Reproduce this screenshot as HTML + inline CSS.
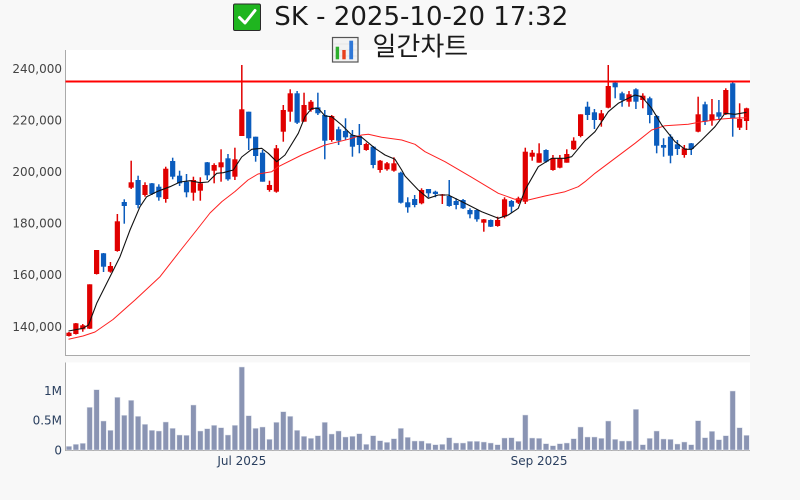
<!DOCTYPE html>
<html>
<head>
<meta charset="utf-8">
<style>
html,body{margin:0;padding:0;background:#f8f8f8;}
svg{display:block;}
.tk{font-family:"DejaVu Sans","Liberation Sans",sans-serif;font-size:12px;}
</style>
</head>
<body>
<svg width="800" height="500" viewBox="0 0 800 500" xmlns="http://www.w3.org/2000/svg">
  <rect x="0" y="0" width="800" height="500" fill="#f8f8f8"/>
  <!-- plot areas -->
  <rect x="65.5" y="50" width="684.5" height="305" fill="#ffffff"/>
  <rect x="65.5" y="362.5" width="684.5" height="88" fill="#ffffff"/>

  <!-- axis lines -->
  <line x1="65.5" y1="50" x2="65.5" y2="355.5" stroke="#aaaaaa" stroke-width="1"/>
  <line x1="65" y1="355.5" x2="750" y2="355.5" stroke="#aaaaaa" stroke-width="1"/>
  <line x1="65.5" y1="362.5" x2="65.5" y2="450.5" stroke="#aaaaaa" stroke-width="1"/>
  <line x1="65" y1="450.5" x2="750" y2="450.5" stroke="#aaaaaa" stroke-width="1"/>

  <!-- y tick labels main -->
  <g class="tk" fill="#444444" text-anchor="end">
    <text x="62" y="72.8">240,000</text>
    <text x="62" y="124.4">220,000</text>
    <text x="62" y="176">200,000</text>
    <text x="62" y="227.6">180,000</text>
    <text x="62" y="279.2">160,000</text>
    <text x="62" y="330.8">140,000</text>
  </g>
  <!-- volume tick labels -->
  <g class="tk" fill="#2a3f5f" text-anchor="end">
    <text x="62" y="395">1M</text>
    <text x="62" y="424.6">0.5M</text>
    <text x="62" y="454.3">0</text>
  </g>
  <!-- x tick labels -->
  <g class="tk" fill="#2a3f5f" text-anchor="middle">
    <text x="241.8" y="465">Jul 2025</text>
    <text x="539.1" y="465">Sep 2025</text>
  </g>

  <g id="vol"></g>
  <g id="candles"></g>

  <!-- MA20 red thin -->
  <polyline fill="none" stroke="#ff2020" stroke-width="1" stroke-linejoin="round" points="68.5,339.3 83,336 95,332 113,319.5 135,300 160,276.7 180,251 196.7,230 210,213 222,201.5 235,191.5 248,180 258,174 271.7,171.7 278.3,166.7 301.7,155 325,145 348.3,139.3 361.7,135 368.3,134.3 381.7,137.3 401.7,140 415,144.3 425,151.7 445,161.7 471.7,177.3 498.3,193.3 515,199.3 528.3,200 545,196 565,191.7 578.3,186.7 585,181.7 595,173.3 615,158.3 635,143.3 651.7,130 665,125.7 688.3,124.3 701.7,121.7 721.7,119 731.7,118.3 746.5,117.7"/>
  <!-- MA5 black -->
  <polyline fill="none" stroke="#111111" stroke-width="1.1" stroke-linejoin="round" points="68.5,331 83,328.3 88.5,325 96.7,303.3 110,276.7 120,256.7 130,230 140,206.7 146.7,196.7 156.7,191.7 170,186.7 180,182 190,180.7 200,182.7 208,182 216.7,173.3 223.3,172.7 233.3,170 241.7,157 251.7,149.3 261.7,148.3 268.3,153.3 276.7,161.7 285,155 298.3,133.3 305,116.7 311.7,108.3 318.3,108.3 325,116 331.7,116.7 341.7,125 351.7,135 361.7,137.3 375,148.3 385,155 395,159.3 401.7,170 405,176 418.3,190 428.3,198.3 438.3,195 448.3,195 465,203.3 481.7,211.7 498.3,218.3 508.3,215 518.3,208.3 525,190 538.3,166.7 551.7,158.3 565,158.3 571.7,156.7 585,140.7 595,131.7 608.3,111.7 618.3,103.3 628.3,98.3 635,95 641.7,96.7 651.7,108.3 661.7,125 675,141.7 685,149.3 691.7,149.3 701.7,140 715,126.7 725,113.3 735,114.3 746.5,112.3"/>

  <!-- horizontal red line -->
  <line x1="65.5" y1="81.5" x2="750" y2="81.5" stroke="#ff0000" stroke-width="2"/>

  <!-- Title -->
  <rect x="233.5" y="4" width="27" height="26.5" rx="1.5" fill="#1fb51f" stroke="#2a2a2a" stroke-width="1"/>
  <polyline points="239.5,17.5 245,23 255,10.5" fill="none" stroke="#ffffff" stroke-width="3" stroke-linecap="round" stroke-linejoin="round"/>
  <text x="274.3" y="25" font-family="DejaVu Sans, Liberation Sans, sans-serif" font-size="26" fill="#1a1a1a" textLength="294" lengthAdjust="spacingAndGlyphs">SK - 2025-10-20 17:32</text>

  <!-- Subtitle icon -->
  <rect x="332.5" y="37.5" width="25.5" height="24.5" fill="#f2f2f2" stroke="#555555" stroke-width="1.2"/>
  <line x1="333" y1="44" x2="357.5" y2="44" stroke="#d8d8d8" stroke-width="0.6"/>
  <line x1="333" y1="50" x2="357.5" y2="50" stroke="#d8d8d8" stroke-width="0.6"/>
  <line x1="333" y1="56" x2="357.5" y2="56" stroke="#d8d8d8" stroke-width="0.6"/>
  <rect x="335.7" y="46.7" width="3.4" height="12.6" fill="#2cae2c"/>
  <rect x="342.3" y="50" width="3.4" height="9.3" fill="#e8401c"/>
  <rect x="349.3" y="40.7" width="3.8" height="18.6" fill="#2f78d8"/>
  <text x="372.5" y="55.5" font-family="Liberation Sans, Noto Sans CJK KR, NanumGothic, sans-serif" font-size="26" fill="#1a1a1a">일간차트</text>
</svg>

<script>
(function(){
var C=[
['R',332.7,336,332,336.5],['R',323.3,334,323,334.5],['R',325.3,329.3,324,331.7],['R',284.3,328.7,284.3,329],['R',250,274,250,274.5],
['B',253.3,266.7,253,272],['R',266,271.7,262,272.7],['R',221.3,251,214,251.7],['B',202,206,199.3,223.7],['R',182.3,187.7,160.7,189],
['B',180,205,175.7,208.3],['R',185,195,182.3,196.7],['B',183.3,194,183,195],['B',186.7,197.3,184.3,200.7],['R',168.7,199,166.7,202.7],
['B',161,176.7,157.7,179.3],['B',175.7,183.3,170.7,186],['B',181.7,192.3,174,197.3],['R',180,192.7,176.7,200.7],['R',183.3,190.7,177.3,200.7],
['B',162.3,175.3,162,180],['R',165,170.7,163.3,183.3],['R',162.3,167.3,149.3,181.7],['B',158.3,179.3,154,180.7],['R',159.3,176.7,147.7,180],
['R',109.3,136,65,136],['B',111.7,138.3,111.7,150],['B',136.7,156,136.7,161.7],['B',152.7,181.7,150,181.7],['R',185,190,180.7,191.7],
['R',148.3,191.7,145,192.7],['R',110,131.7,105,141.7],['R',93.3,111.7,89.3,121.7],['B',93.3,122.7,91,124],['R',105,121.7,92.7,121.7],
['R',101.7,110,100,111.7],['B',107.3,113.3,92.7,115],['B',115,140.7,110,159.3],['R',116,140,115,141.7],['B',129.3,140.7,126.7,145],
['B',131,137.3,118.3,140],['B',135,146.7,130,156.7],['B',136,145,124,153.3],['R',144,150,142.7,150.7],['B',146.7,165,146,168.3],
['R',160.7,170,160,172.7],['R',163.3,169.3,162,170.7],['R',163.3,170.7,157.3,171.7],['B',172.7,202.7,171.7,203.5],['B',202.3,207.3,197.3,212.7],
['B',199,205,195,207.3],['R',190,203.3,188.3,204.3],['B',189,193.3,189,197.3],['B',191.7,194,190.7,197.3],['R',194.3,195.7,194,204],
['B',196,206,180,206.7],['B',201,205,198.3,209.3],['B',200,208.3,199,209],['B',210,214.3,208.3,218.3],['B',210,219.3,209,221.7],
['R',219.3,222.7,219,231.7],['B',220,226.7,219.5,227],['R',220,226,216.7,226.7],['R',199.3,216.7,197.3,218.3],['B',201,206.7,200,212.7],
['R',198.3,202.7,196.7,204],['R',151.7,201.7,147.7,204],['R',152.7,156.7,150,160.7],['R',153.3,162.7,143.3,162.7],['B',150,161.7,149.3,162.7],
['R',158.3,170,155,170.7],['R',158.3,167.7,155,168.3],['R',154,162.7,149.3,162.7],['R',140.7,149.3,137.3,150],['R',114.3,136,114.3,137.3],
['B',106.7,115,101.7,120],['B',112.3,120,109,129],['R',113.3,120,110,126.7],['R',86,107.7,65,108.3],['B',82.7,87.3,82.5,98.3],
['B',93.3,100,91.7,106.7],['R',94.3,101.7,91,106.7],['B',89.3,101.7,88.3,109],['R',95.7,100,93.3,108.3],['B',98.3,115,96.7,123.3],
['B',116,145.7,115,153.3],['B',145,147.7,138.3,156.7],['B',136.7,155.7,134.3,163.3],['B',144.3,149,140,155],['R',148.3,155,145,157.7],
['B',143.3,149,143,155],['R',114.3,131.7,96.7,132.3],['B',104.3,121.7,101.7,125],['R',114.3,120.3,99,125.7],['B',112.3,116.7,100,120],
['R',90,114.3,88.3,115],['B',83.3,118.3,81.7,136.7],['R',119,127.7,103.3,130],['R',108.3,121,107.7,130]
];
var V=[11,17,20,128,181,87,59,158,104,149,101,77,59,57,84,65,45,44,135,57,64,74,67,45,74,249,103,65,69,32,83,115,101,59,41,35,43,83,48,57,39,41,49,17,43,28,23,34,65,
38,27,27,20,16,17,37,21,21,26,26,24,21,16,36,37,26,105,36,35,19,13,19,21,34,69,39,39,35,87,32,27,27,122,16,35,57,33,32,18,24,16,88,37,56,31,43,177,67,44];
var step=684.5/99, s='', v='';
for(var i=0;i<C.length;i++){
  var c=C[i], cx=65.5+(i+0.5)*step, col=c[0]=='R'?'#e00000':'#0b5cbd';
  var bt=c[1], bb=c[2], h=Math.max(bb-bt,1.4);
  s+='<line x1="'+cx.toFixed(2)+'" y1="'+c[3]+'" x2="'+cx.toFixed(2)+'" y2="'+c[4]+'" stroke="'+col+'" stroke-width="1.5"/>';
  s+='<rect x="'+(cx-2.6).toFixed(2)+'" y="'+bt+'" width="5.2" height="'+h.toFixed(2)+'" fill="'+col+'"/>';
}
for(var j=0;j<V.length;j++){
  var x=65.5+(j+0.5)*step, hh=V[j]/3;
  v+='<rect x="'+(x-2.7).toFixed(2)+'" y="'+(450-hh).toFixed(2)+'" width="5.4" height="'+hh.toFixed(2)+'" fill="#8a94b3" stroke="#dfe3ec" stroke-width="0.5"/>';
}
document.getElementById('candles').innerHTML=s;
document.getElementById('vol').innerHTML=v;
})();
</script>
</body>
</html>
